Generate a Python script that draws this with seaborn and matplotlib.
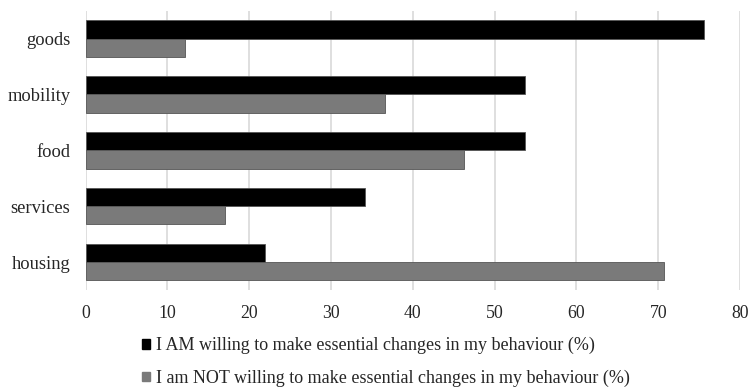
import matplotlib
matplotlib.use("Agg")
import matplotlib.pyplot as plt
import seaborn as sns
import pandas as pd
from matplotlib.patches import Patch

categories = ["goods", "mobility", "food", "services", "housing"]
willing = [75.6, 53.7, 53.7, 34.1, 21.9]
not_willing = [12.1, 36.6, 46.3, 17.0, 70.7]
series_names = [
    "I AM willing to make essential changes in my behaviour (%)",
    "I am NOT willing to make essential changes in my behaviour (%)",
]
x_ticks = [0, 10, 20, 30, 40, 50, 60, 70, 80]

df = pd.DataFrame({
    "category": categories * 2,
    "value": willing + not_willing,
    "series": [series_names[0]] * len(categories) + [series_names[1]] * len(categories),
})

sns.set_theme(style="white")
plt.rcParams["font.family"] = ["Liberation Serif", "DejaVu Serif"]

colors = ["#000000", "#7a7a7a"]
fig = plt.figure(figsize=(7.51, 3.88), dpi=100)
ax = fig.add_axes([0.1141, 0.2526, 0.8713, 0.7198])

sns.barplot(data=df, y="category", x="value", hue="series", order=categories,
            hue_order=series_names, palette=colors, orient="h", width=0.655,
            ax=ax, edgecolor="#555555", linewidth=0.6, legend=False, zorder=3)

ax.set_xlim(0, 80)
ax.set_ylim(4.5, -0.5)
ax.set_xticks(x_ticks)
ax.set_xticklabels([str(t) for t in x_ticks], fontsize=12.8)
ax.tick_params(axis="y", labelsize=13.3, length=0, pad=11)
ax.tick_params(axis="x", length=0, pad=11)
ax.xaxis.grid(True, color="#d9d9d9", linewidth=1.2, zorder=0)
ax.yaxis.grid(False)
ax.set_axisbelow(True)
for s in ax.spines.values():
    s.set_visible(False)
ax.set_xlabel("")
ax.set_ylabel("")

handles = [Patch(facecolor=c, edgecolor=c) for c in colors]
fig.legend(handles, series_names, loc="lower left", bbox_to_anchor=(0.179, -0.016),
           ncol=1, frameon=False, fontsize=13, handlelength=0.45, handleheight=0.45,
           handletextpad=0.35, labelspacing=0.85, borderaxespad=0)

fig.savefig("out.png", dpi=100)
